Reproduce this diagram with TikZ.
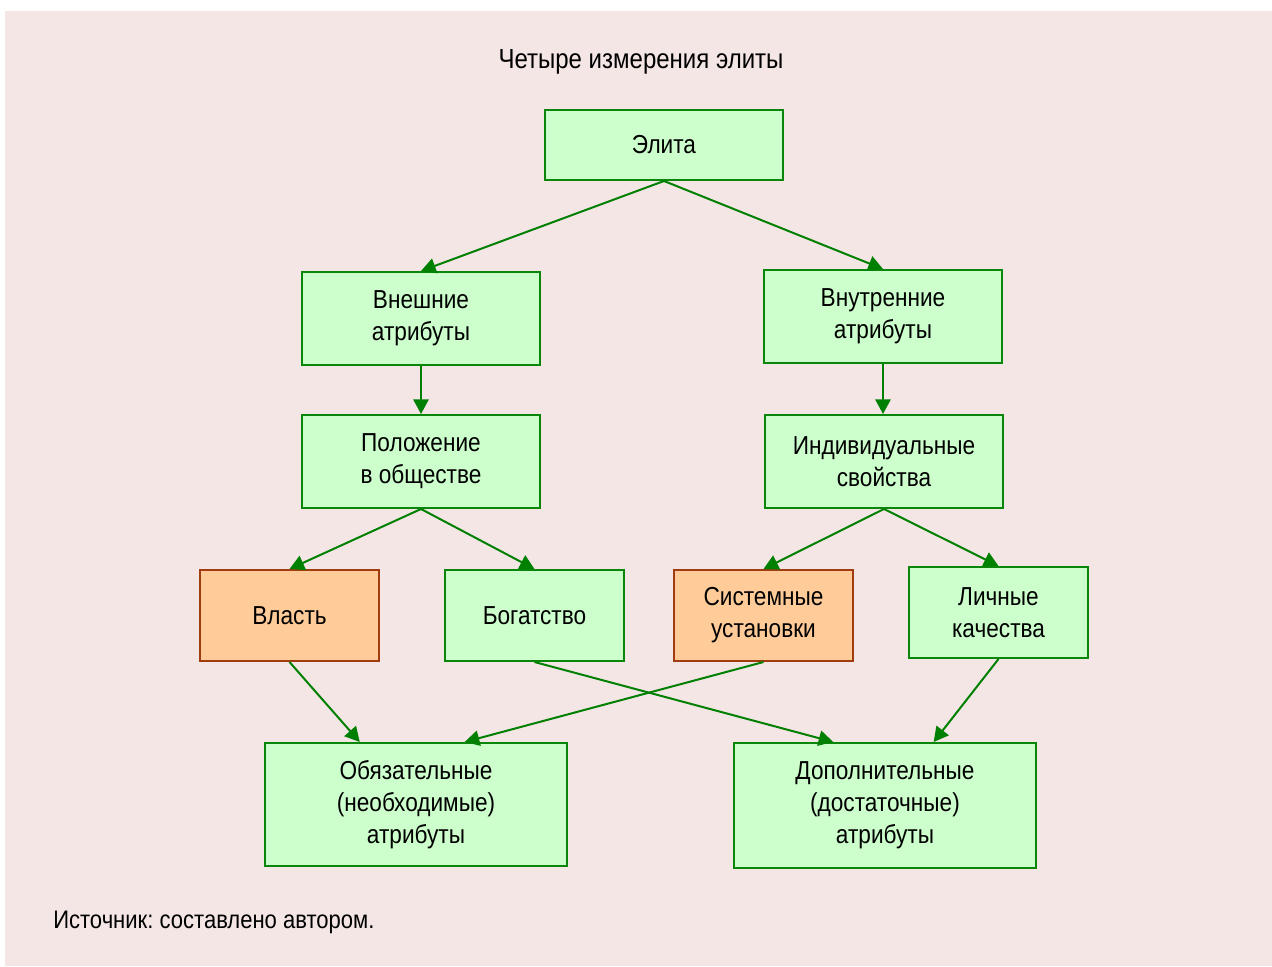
\documentclass[tikz,border=0pt]{standalone}
\usepackage{fontspec}
\setmainfont{Liberation Sans}[FakeStretch=0.87]
\usepackage{tikz}
\usetikzlibrary{positioning}
\usetikzlibrary{arrows.meta}
\usetikzlibrary{calc}
\definecolor{bgpink}{RGB}{245,230,230}
\definecolor{boxfill}{RGB}{204,255,204}
\definecolor{boxline}{RGB}{10,135,10}
\definecolor{orfill}{RGB}{255,204,153}
\definecolor{orline}{RGB}{160,60,15}
\definecolor{arr}{RGB}{0,128,0}
\frenchspacing

\begin{document}
\begin{tikzpicture}[x=0.75pt,y=-0.75pt,
txt/.style={font=\fontsize{19.5}{24}\selectfont,align=center,inner sep=0},
gbox/.style={txt,draw=boxline,fill=boxfill,line width=1.5pt,
             minimum width=178.5pt,minimum height=69.75pt},
obox/.style={gbox,draw=orline,fill=orfill,minimum width=134.25pt,minimum height=68.25pt},
sbox/.style={gbox,minimum width=134.25pt,minimum height=68.25pt},
bbox/.style={gbox,minimum width=226.5pt,minimum height=92.25pt},
link/.style={draw=arr,line width=1.5pt,-{Triangle[length=11pt,width=11.5pt]}}]
\useasboundingbox (0,0) rectangle (1272,967);
\fill[bgpink] (5,11) rectangle (1272,966);
\node[txt,font=\fontsize{20.7}{24}\selectfont] (title) at (641,62) {Четыре измерения элиты};
%==================
\node[gbox,minimum height=52.5pt] (elite) at (664,145) {Элита};
%==================
\node[gbox] (ext) at (421,318.5) {Внешние\\атрибуты};
\node[gbox] (int) at (883,316.5) {Внутренние\\атрибуты};
\node[gbox] (pos) at (421,461.5) {Положение\\в обществе};
\node[gbox] (ind) at (884,461.5) {Индивидуальные\\свойства};
%==================
\node[obox] (power) at (289.5,615.5) {Власть};
\node[sbox] (wealth) at (534.5,615.5) {Богатство};
\node[obox] (sys) at (763.5,615.5) {Системные\\установки};
\node[sbox] (pers) at (998.5,612.5) {Личные\\качества};
%==================
\node[bbox] (req) at (416,804.5) {Обязательные\\(необходимые)\\атрибуты};
\node[bbox,minimum height=93.75pt] (add) at (885,805.5) {Дополнительные\\(достаточные)\\атрибуты};
\node[txt,font=\fontsize{19}{24}\selectfont,anchor=west] (src) at (53,922) {Источник: составлено автором.};
% ===================
\draw[link] (elite.south) -- (ext.north);
\draw[link] (elite.south) -- (int.north);
\draw[link] (ext) -- (pos);
\draw[link] (int.south) -- (int.south |- ind.north);
\draw[link] (pos.south) -- (power.north);
\draw[link] (pos.south) -- (wealth.north);
\draw[link] (ind.south) -- (sys.north);
\draw[link] (ind.south) -- (pers.north);
% ===================
\draw[link] (power.south) -- ($(req.north west)!.315!(req.north east)$);
\draw[link] (sys.south) -- ($(req.north west)!.66!(req.north east)$);
\draw[link] (wealth.south) -- ($(add.north west)!.33!(add.north east)$);
\draw[link] (pers.south) -- ($(add.north west)!.66!(add.north east)$);
\end{tikzpicture}
\end{document}
